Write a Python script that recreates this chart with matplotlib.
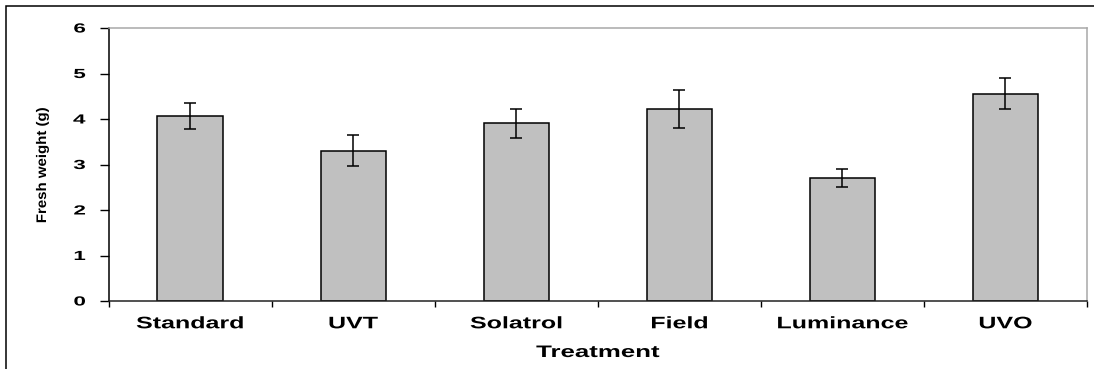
import matplotlib
matplotlib.use("Agg")
import matplotlib.pyplot as plt
from matplotlib.patheffects import AbstractPathEffect
from matplotlib.transforms import Affine2D
from matplotlib.patches import Rectangle
from matplotlib.ticker import FixedLocator, NullFormatter

# Mean fresh weight per treatment, with error bar half-widths
treatments = ["Standard", "UVT", "Solatrol", "Field", "Luminance", "UVO"]
fresh_weight = [4.07, 3.30, 3.91, 4.22, 2.71, 4.56]
errors = [0.29, 0.34, 0.32, 0.41, 0.20, 0.35]
y_ticks = [0, 1, 2, 3, 4, 5, 6]

W, H = 1094, 369
DPI = 100


class StretchX(AbstractPathEffect):
    """Widen glyphs along the text baseline, keeping an anchor fixed."""

    def __init__(self, sx, anchor="center"):
        super().__init__()
        self.sx = sx
        self.anchor = anchor

    def draw_path(self, renderer, gc, tpath, affine, rgbFace=None):
        ext = tpath.get_extents()
        if self.anchor == "right":
            cx = ext.x1
        elif self.anchor == "left":
            cx = ext.x0
        else:
            cx = 0.5 * (ext.x0 + ext.x1)
        tr = Affine2D().translate(-cx, 0).scale(self.sx, 1).translate(cx, 0) + affine
        renderer.draw_path(gc, tpath, tr, rgbFace)


FONT = ["Liberation Sans", "DejaVu Sans"]

fig = plt.figure(figsize=(W / DPI, H / DPI), dpi=DPI)
fig.patch.set_facecolor("white")

# Outer frame running off the right and bottom edges
fig.add_artist(Rectangle((6 / W, -0.2), 1.2, 1 - 6 / H + 0.2,
                         transform=fig.transFigure, fill=False,
                         edgecolor="black", linewidth=1.1))

left, right = 108.5 / W, 1087 / W
bottom, top = 1 - 301 / H, 1 - 28 / H
ax = fig.add_axes([left, bottom, right - left, top - bottom])

x = list(range(len(treatments)))
ax.bar(x, fresh_weight, width=0.4, color="#c0c0c0", edgecolor="black",
       linewidth=1.1, zorder=2)
ax.errorbar(x, fresh_weight, yerr=errors, fmt="none", ecolor="black",
            elinewidth=1.1, capsize=4, capthick=1.1, zorder=3)

ax.set_xlim(-0.5, len(treatments) - 0.5)
ax.set_ylim(0, 6)

# Spines: dark left/bottom, light grey top/right
ax.spines["left"].set_color("black")
ax.spines["bottom"].set_color("#222222")
for s in ("top", "right"):
    ax.spines[s].set_color("#a8a8a8")
for s in ax.spines.values():
    s.set_linewidth(1.1)

# y axis
ax.set_yticks(y_ticks)
ax.set_yticklabels([str(v) for v in y_ticks])
ax.tick_params(axis="y", direction="out", length=6.5, width=1.0, pad=10,
               colors="black")
for lab in ax.get_yticklabels():
    lab.set_fontfamily(FONT)
    lab.set_fontweight("bold")
    lab.set_fontsize(9.5)
    lab.set_path_effects([StretchX(1.7, "right")])

# x axis: ticks at category boundaries, labels at category centres
ax.xaxis.set_major_locator(FixedLocator([i - 0.5 for i in range(len(treatments) + 1)]))
ax.xaxis.set_major_formatter(NullFormatter())
ax.xaxis.set_minor_locator(FixedLocator(x))
ax.set_xticks(x, minor=True)
ax.set_xticklabels(treatments, minor=True)
ax.tick_params(axis="x", which="major", direction="out", length=4.3, width=1.0,
               colors="black")
ax.tick_params(axis="x", which="minor", length=0, pad=11)
for lab in ax.get_xticklabels(minor=True):
    lab.set_fontfamily(FONT)
    lab.set_fontweight("bold")
    lab.set_fontsize(12)
    lab.set_path_effects([StretchX(1.5, "center")])

# Axis titles
fig.text(597.75 / W, 1 - 357 / H, "Treatment", ha="center", va="baseline",
         fontfamily=FONT, fontweight="bold", fontsize=12,
         path_effects=[StretchX(1.55, "center")])
fig.text(46 / W, 1 - 165 / H, "Fresh weight (g)", rotation=90,
         rotation_mode="anchor", ha="center", va="baseline",
         fontfamily=FONT, fontweight="bold", fontsize=10,
         path_effects=[StretchX(1.08, "center")])

fig.savefig("out.png", dpi=DPI)
